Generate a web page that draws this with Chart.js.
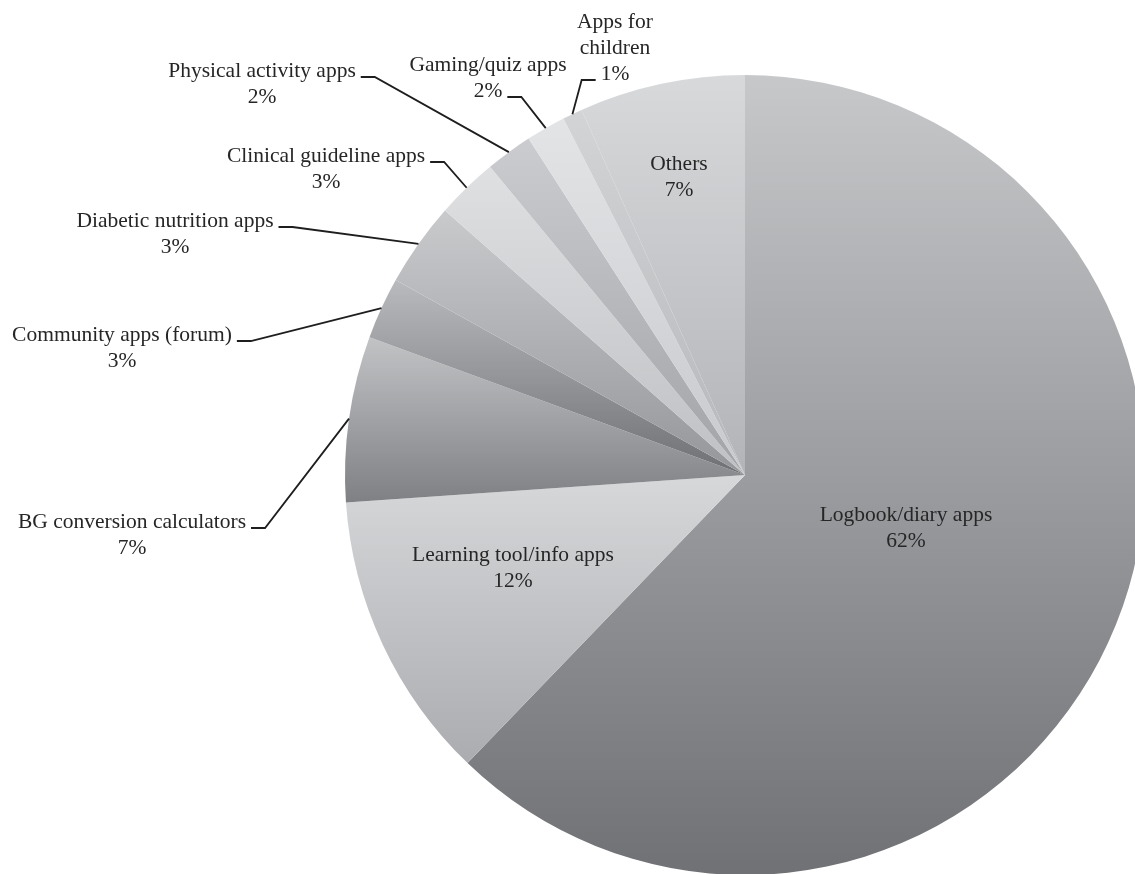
<!DOCTYPE html>
<html>
<head>
<meta charset="utf-8">
<title>Diabetes apps by category</title>
<script src="https://cdn.jsdelivr.net/npm/chart.js@4/dist/chart.umd.min.js"></script>
<style>
    html, body { margin: 0; padding: 0; background: #fff; overflow: hidden; }
    #wrap { position: absolute; left: 0; top: 0; width: 1160px; height: 880px; }
</style>
</head>
<body>
<div id="wrap"><canvas id="appsChart" width="1160" height="880"></canvas></div>
<script>
// Data (share of apps, %), clockwise from 12 o'clock
const categories = [
    'Logbook/diary apps',
    'Learning tool/info apps',
    'BG conversion calculators',
    'Community apps (forum)',
    'Diabetic nutrition apps',
    'Clinical guideline apps',
    'Physical activity apps',
    'Gaming/quiz apps',
    'Apps for children',
    'Others'
];
const shares = [62.2, 11.7, 6.7, 2.5, 3.4, 2.5, 1.9, 1.6, 0.8, 6.7];
const percentLabels = ['62%', '12%', '7%', '3%', '3%', '3%', '2%', '2%', '1%', '7%'];

// vertical gradient of each slice, top shade -> bottom shade
const topShades = ['#c7c8ca', '#d7d8da', '#c2c3c5', '#b9babd', '#c9cacc', '#dfe0e2', '#cbcccf', '#e3e4e6', '#d3d4d6', '#d8d9db'];
const bottomShades = ['#707175', '#abacaf', '#7f8084', '#6f7074', '#95969a', '#bfc0c3', '#a2a3a6', '#c8c9cc', '#b6b7ba', '#b3b4b7'];

// where each label sits (centre of first text line); leader = which line it leaves from
const labelLayout = [
    { x: 906, y: 515 },
    { x: 513, y: 555 },
    { x: 132, y: 522, leader: { line: 0, side: 'right' } },
    { x: 122, y: 335, leader: { line: 0, side: 'right' } },
    { x: 175, y: 221, leader: { line: 0, side: 'right' } },
    { x: 326, y: 156, leader: { line: 0, side: 'right' } },
    { x: 262, y: 71, leader: { line: 0, side: 'right' } },
    { x: 488, y: 65, leader: { line: 1, side: 'right' } },
    { x: 615, y: 22, lines: ['Apps for', 'children'], leader: { line: 2, side: 'left' } },
    { x: 679, y: 164 }
];

const labelFont = '21.5px "Liberation Serif", "Times New Roman", serif';
const lineGap = 26;

function sliceFill(context) {
    const chart = context.chart;
    const area = chart.chartArea;
    const i = context.dataIndex;
    if (!area) return bottomShades[i];
    const cx = (area.left + area.right) / 2;
    const cy = (area.top + area.bottom) / 2;
    const r = Math.min(area.width, area.height) / 2;
    const total = shares.reduce((a, b) => a + b, 0);
    const before = shares.slice(0, i).reduce((a, b) => a + b, 0);
    const a0 = -Math.PI / 2 + before / total * Math.PI * 2;
    const a1 = a0 + shares[i] / total * Math.PI * 2;
    const ys = [cy, cy + r * Math.sin(a0), cy + r * Math.sin(a1)];
    // does the slice pass through the top or bottom of the circle?
    const spans = (a) => {
        for (let k = -1; k <= 2; k++) {
            const t = a + k * Math.PI * 2;
            if (t >= a0 && t <= a1) return true;
        }
        return false;
    };
    if (spans(-Math.PI / 2)) ys.push(cy - r);
    if (spans(Math.PI / 2)) ys.push(cy + r);
    const g = chart.ctx.createLinearGradient(0, Math.min(...ys), 0, Math.max(...ys));
    g.addColorStop(0, topShades[i]);
    g.addColorStop(1, bottomShades[i]);
    return g;
}

const sliceLabels = {
    id: 'sliceLabels',
    afterDatasetsDraw(chart) {
        const ctx = chart.ctx;
        const arcs = chart.getDatasetMeta(0).data;
        ctx.save();
        ctx.font = labelFont;
        ctx.fillStyle = '#262626';
        ctx.strokeStyle = '#1e1e1e';
        ctx.lineWidth = 1.8;
        ctx.textAlign = 'center';
        ctx.textBaseline = 'middle';
        labelLayout.forEach((spec, i) => {
            const lines = (spec.lines || [categories[i]]).concat(percentLabels[i]);
            lines.forEach((txt, k) => ctx.fillText(txt, spec.x, spec.y + k * lineGap));
            if (!spec.leader) return;
            const txt = lines[spec.leader.line];
            const w = ctx.measureText(txt).width;
            const dir = spec.leader.side === 'right' ? 1 : -1;
            const sx = spec.x + dir * (w / 2 + 5);
            const sy = spec.y + spec.leader.line * lineGap + 6;
            const arc = arcs[i];
            const mid = (arc.startAngle + arc.endAngle) / 2;
            const ex = arc.x + Math.cos(mid) * arc.outerRadius;
            const ey = arc.y + Math.sin(mid) * arc.outerRadius;
            ctx.beginPath();
            ctx.moveTo(sx, sy);
            ctx.lineTo(sx + dir * 14, sy);
            ctx.lineTo(ex, ey);
            ctx.stroke();
        });
        ctx.restore();
    }
};

document.addEventListener('DOMContentLoaded', function() {
    const appsCtx = document.getElementById('appsChart').getContext('2d');
    const appsChart = new Chart(appsCtx, {
        type: 'pie',
        data: {
            labels: categories,
            datasets: [{
                data: shares,
                backgroundColor: sliceFill,
                borderWidth: 0
            }]
        },
        options: {
            responsive: false,
            animation: false,
            layout: {
                padding: { left: 345, right: 15, top: 75, bottom: 5 }
            },
            plugins: {
                legend: { display: false },
                tooltip: { enabled: false }
            }
        },
        plugins: [sliceLabels]
    });
});
</script>
</body>
</html>
